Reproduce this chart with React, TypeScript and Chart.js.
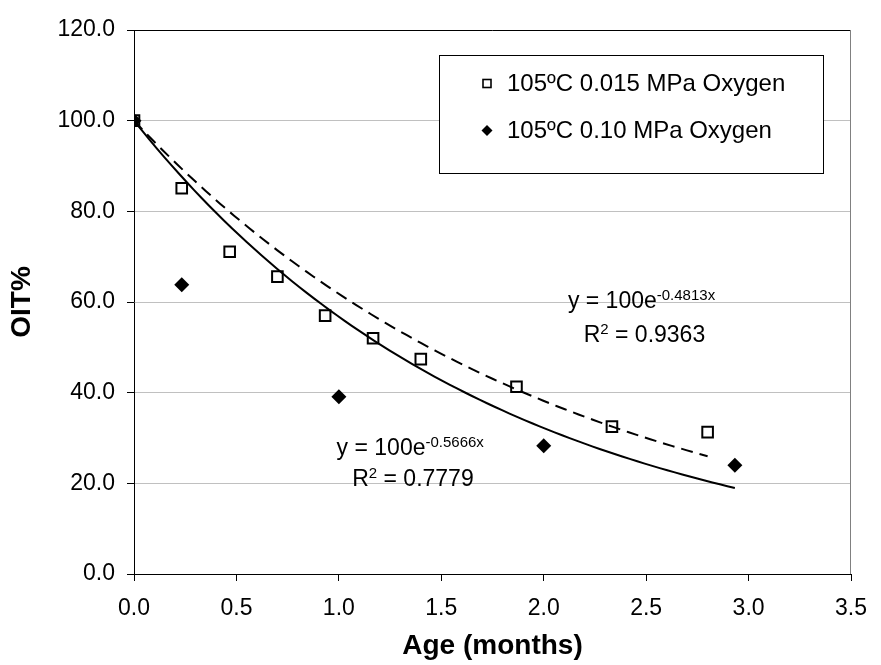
import { useEffect, useRef } from "react";
import { Chart, registerables } from "chart.js";

Chart.register(...registerables);

// OIT retention vs. ageing time, 105 ºC, two oxygen partial pressures
const ageLowO2 = [0, 0.233, 0.467, 0.7, 0.933, 1.167, 1.4, 1.867, 2.333, 2.8];
const oitLowO2 = [100, 85.1, 71.1, 65.6, 57.0, 52.0, 47.4, 41.3, 32.5, 31.3];

const ageHighO2 = [0, 0.233, 1.0, 2.0, 2.933];
const oitHighO2 = [100, 63.8, 39.1, 28.3, 24.0];

const seriesNames = ["105ºC 0.015 MPa Oxygen", "105ºC 0.10 MPa Oxygen"];

// Exponential fits y = a·e^(k·x)
const fitLowO2 = { a: 100, k: -0.4813, r2: 0.9363 };
const fitHighO2 = { a: 100, k: -0.5666, r2: 0.7779 };

const yTickValues = [0, 20, 40, 60, 80, 100, 120];
const xTickValues = [0, 0.5, 1, 1.5, 2, 2.5, 3, 3.5];

const FONT = "'Liberation Sans', Arial, Helvetica, sans-serif";

function fitCurve(fit: { a: number; k: number }, xEnd: number, steps = 80) {
  const pts: { x: number; y: number }[] = [];
  for (let i = 0; i <= steps; i++) {
    const x = (xEnd * i) / steps;
    pts.push({ x, y: fit.a * Math.exp(fit.k * x) });
  }
  return pts;
}

function zip(xs: number[], ys: number[]) {
  return xs.map((x, i) => ({ x, y: ys[i] }));
}

type Seg = { text: string; sup?: boolean };

function drawRich(ctx: CanvasRenderingContext2D, x: number, baseline: number, segs: Seg[]) {
  let cx = x;
  ctx.textBaseline = "alphabetic";
  ctx.textAlign = "left";
  for (const s of segs) {
    ctx.font = s.sup ? `15px ${FONT}` : `23px ${FONT}`;
    ctx.fillText(s.text, cx, s.sup ? baseline - 8 : baseline);
    cx += ctx.measureText(s.text).width;
  }
}

const fitLabels = [
  { fit: fitLowO2, eq: { x: 2.118, y: 58.7 }, r2: { x: 2.195, y: 51.25 } },
  { fit: fitHighO2, eq: { x: 0.989, y: 26.25 }, r2: { x: 1.065, y: 19.4 } },
];

const decorations = {
  id: "decorations",
  afterDraw(chart: Chart) {
    const { ctx, chartArea, scales } = chart;
    const xs = scales.x;
    const ys = scales.y;
    ctx.save();

    // plot frame: top edge dark, right edge grey
    ctx.lineWidth = 1;
    ctx.strokeStyle = "#000";
    ctx.beginPath();
    ctx.moveTo(chartArea.left, chartArea.top + 0.5);
    ctx.lineTo(chartArea.right, chartArea.top + 0.5);
    ctx.stroke();
    ctx.strokeStyle = "#808080";
    ctx.beginPath();
    ctx.moveTo(Math.round(chartArea.right) - 0.5, chartArea.top);
    ctx.lineTo(Math.round(chartArea.right) - 0.5, chartArea.bottom);
    ctx.stroke();

    // fit equations
    ctx.fillStyle = "#000";
    for (const l of fitLabels) {
      drawRich(ctx, xs.getPixelForValue(l.eq.x), ys.getPixelForValue(l.eq.y), [
        { text: `y = ${l.fit.a}e` },
        { text: `${l.fit.k}x`, sup: true },
      ]);
      drawRich(ctx, xs.getPixelForValue(l.r2.x), ys.getPixelForValue(l.r2.y), [
        { text: "R" },
        { text: "2", sup: true },
        { text: ` = ${l.fit.r2.toFixed(4)}` },
      ]);
    }

    // legend box
    const bx = 439.5, by = 55.5, bw = 384, bh = 118;
    ctx.fillStyle = "#fff";
    ctx.fillRect(bx, by, bw, bh);
    ctx.strokeStyle = "#000";
    ctx.lineWidth = 1;
    ctx.strokeRect(bx, by, bw, bh);

    const rows = [by + 28, by + 75];
    const mx = 487;
    // open square
    ctx.lineWidth = 1.6;
    ctx.strokeRect(mx - 4, rows[0] - 4, 8, 8);
    // filled diamond
    ctx.fillStyle = "#000";
    ctx.beginPath();
    ctx.moveTo(mx, rows[1] - 5.5);
    ctx.lineTo(mx + 5.5, rows[1]);
    ctx.lineTo(mx, rows[1] + 5.5);
    ctx.lineTo(mx - 5.5, rows[1]);
    ctx.closePath();
    ctx.fill();

    ctx.font = `24px ${FONT}`;
    ctx.textBaseline = "middle";
    ctx.textAlign = "left";
    ctx.fillText(seriesNames[0], 507, rows[0] + 1);
    ctx.fillText(seriesNames[1], 507, rows[1] + 1);

    ctx.restore();
  },
};

export default function App() {
  const ref = useRef<HTMLCanvasElement | null>(null);

  useEffect(() => {
    if (!ref.current) return;
    const chart = new Chart(ref.current, {
      type: "scatter",
      data: {
        datasets: [
          {
            label: seriesNames[0],
            data: zip(ageLowO2, oitLowO2),
            pointStyle: "rect",
            pointRadius: 7.5,
            pointBorderWidth: 2,
            pointBorderColor: "#000",
            pointBackgroundColor: "rgba(0,0,0,0)",
            showLine: false,
          },
          {
            label: seriesNames[1],
            data: zip(ageHighO2, oitHighO2),
            pointStyle: "rectRot",
            pointRadius: 7.5,
            pointBorderWidth: 0,
            pointBackgroundColor: "#000",
            pointBorderColor: "#000",
            showLine: false,
          },
          {
            label: "fit 0.015 MPa",
            data: fitCurve(fitLowO2, ageLowO2[ageLowO2.length - 1]),
            showLine: true,
            borderColor: "#000",
            borderWidth: 2,
            borderDash: [12, 7],
            pointRadius: 0,
            tension: 0,
          },
          {
            label: "fit 0.10 MPa",
            data: fitCurve(fitHighO2, ageHighO2[ageHighO2.length - 1]),
            showLine: true,
            borderColor: "#000",
            borderWidth: 2,
            pointRadius: 0,
            tension: 0,
          },
        ],
      },
      options: {
        responsive: false,
        animation: false,
        events: [],
        layout: { padding: { top: 30, right: 27, left: 0, bottom: 0 } },
        plugins: { legend: { display: false }, tooltip: { enabled: false } },
        scales: {
          x: {
            type: "linear",
            min: 0,
            max: 3.5,
            afterFit: (s: any) => {
              s.height = 91;
            },
            afterBuildTicks: (s: any) => {
              s.ticks = xTickValues.map((v) => ({ value: v }));
            },
            ticks: {
              color: "#000",
              font: { family: FONT, size: 23 },
              padding: 14,
              maxRotation: 0,
              autoSkip: false,
              callback: (v: any) => Number(v).toFixed(1),
            },
            grid: {
              drawOnChartArea: false,
              tickLength: 7,
              tickColor: "#000",
            },
            border: { color: "#000", width: 1 },
            title: {
              display: true,
              text: "Age (months)",
              color: "#000",
              font: { family: FONT, size: 28, weight: "bold", lineHeight: 1.2 },
              padding: { top: 0, bottom: 2 },
            },
          },
          y: {
            type: "linear",
            min: 0,
            max: 120,
            afterFit: (s: any) => {
              s.width = 134;
            },
            afterBuildTicks: (s: any) => {
              s.ticks = yTickValues.map((v) => ({ value: v }));
            },
            ticks: {
              color: "#000",
              font: { family: FONT, size: 23 },
              padding: 12,
              autoSkip: false,
              callback: (v: any) => Number(v).toFixed(1),
            },
            grid: {
              color: "#c0c0c0",
              lineWidth: 1,
              tickLength: 7,
              tickColor: "#000",
            },
            border: { color: "#000", width: 1 },
            title: {
              display: true,
              text: "OIT%",
              color: "#000",
              font: { family: FONT, size: 28, weight: "bold", lineHeight: 1.2 },
              padding: { top: 5, bottom: 0 },
            },
          },
        },
      },
      plugins: [decorations],
    });
    return () => chart.destroy();
  }, []);

  return (
    <div style={{ position: "fixed", left: 0, top: 0, width: 881, height: 665, background: "#fff" }}>
      <canvas ref={ref} width={881} height={665} style={{ display: "block" }} />
    </div>
  );
}
